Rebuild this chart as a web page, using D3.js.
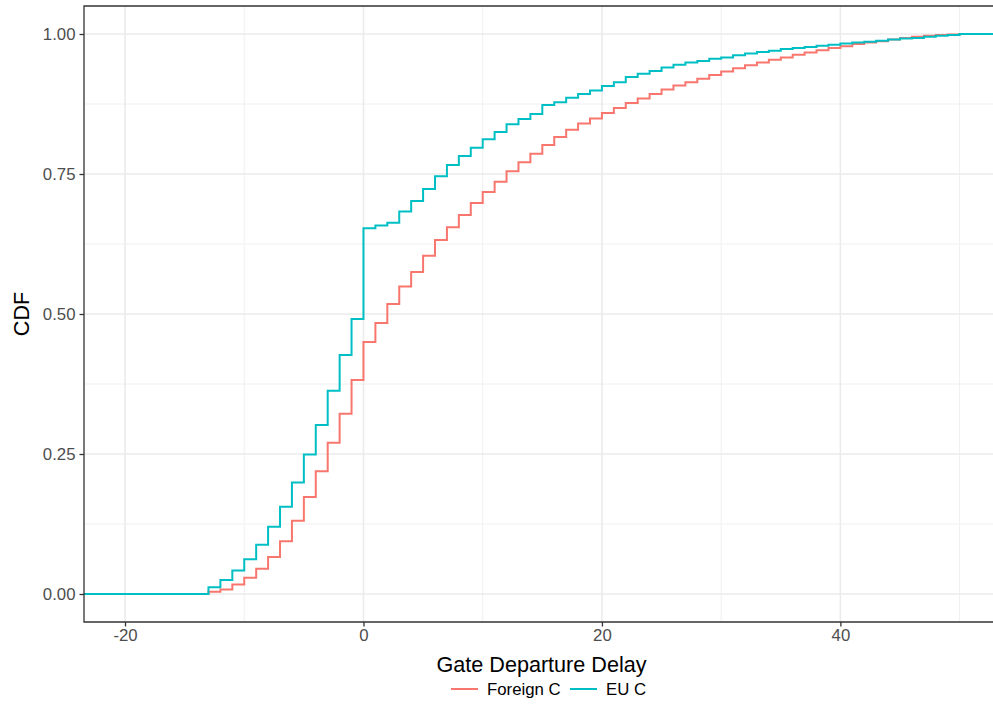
<!DOCTYPE html>
<html>
<head>
<meta charset="utf-8">
<script src="https://cdn.jsdelivr.net/npm/d3@7"></script>
<style>
  body { margin: 0; background: #fff; }
  text { font-family: "Liberation Sans", Arial, sans-serif; }
</style>
</head>
<body>
<svg width="993" height="704"></svg>
<script>
// delay values (minutes) where the ecdf steps
const DELAYS = d3.range(-13, 51);

const FOREIGN_C = [
  0.004, 0.008, 0.017, 0.029, 0.045, 0.066, 0.094, 0.131, 0.173, 0.219,
  0.270, 0.322, 0.382, 0.450, 0.484, 0.518, 0.549, 0.575, 0.604, 0.632,
  0.655, 0.677, 0.698, 0.718, 0.736, 0.755, 0.771, 0.786, 0.802, 0.816,
  0.829, 0.840, 0.849, 0.859, 0.868, 0.877, 0.885, 0.893, 0.901, 0.908,
  0.914, 0.920, 0.927, 0.933, 0.939, 0.944, 0.949, 0.954, 0.958, 0.963,
  0.967, 0.971, 0.975, 0.978, 0.982, 0.985, 0.987, 0.990, 0.993, 0.995,
  0.997, 0.998, 0.999, 1.000
];

const EU_C = [
  0.012, 0.025, 0.042, 0.062, 0.088, 0.120, 0.156, 0.199, 0.249, 0.302,
  0.363, 0.427, 0.491, 0.653, 0.658, 0.663, 0.683, 0.702, 0.723, 0.746,
  0.766, 0.782, 0.797, 0.812, 0.825, 0.839, 0.848, 0.857, 0.873, 0.878,
  0.886, 0.893, 0.899, 0.907, 0.914, 0.923, 0.929, 0.934, 0.940, 0.945,
  0.949, 0.952, 0.956, 0.958, 0.962, 0.965, 0.968, 0.970, 0.973, 0.975,
  0.977, 0.979, 0.981, 0.983, 0.985, 0.986, 0.988, 0.990, 0.992, 0.993,
  0.995, 0.997, 0.998, 1.000
];

const SERIES_NAMES = ["Foreign C", "EU C"];
const COLORS = ["#F8766D", "#00BFC4"];
const X_TICKS = [-20, 0, 20, 40];
const X_MINOR = [-10, 10, 30, 50];
const Y_TICKS = [0, 0.25, 0.5, 0.75, 1];
const Y_MINOR = [0.125, 0.375, 0.625, 0.875];

const LEFT = 84, RIGHT = 993, TOP = 6, BOTTOM = 622;

const svg = d3.select('svg');

const x = d3.scaleLinear().domain([-23.44, 52.8]).range([LEFT, RIGHT]);
const y = d3.scaleLinear().domain([-0.05, 1.05]).range([BOTTOM, TOP]);

svg.append('clipPath').attr('id', 'panel')
  .append('rect')
  .attr('x', LEFT).attr('y', TOP)
  .attr('width', RIGHT - LEFT + 10).attr('height', BOTTOM - TOP);

const grid = svg.append('g');

// minor grid
grid.selectAll('.vminor').data(X_MINOR).enter().append('line')
  .attr('x1', d => x(d)).attr('x2', d => x(d))
  .attr('y1', TOP).attr('y2', BOTTOM)
  .attr('stroke', '#f0f0f0').attr('stroke-width', 1);
grid.selectAll('.hminor').data(Y_MINOR).enter().append('line')
  .attr('x1', LEFT).attr('x2', RIGHT + 10)
  .attr('y1', d => y(d)).attr('y2', d => y(d))
  .attr('stroke', '#f0f0f0').attr('stroke-width', 1);

// major grid
grid.selectAll('.vmajor').data(X_TICKS).enter().append('line')
  .attr('x1', d => x(d)).attr('x2', d => x(d))
  .attr('y1', TOP).attr('y2', BOTTOM)
  .attr('stroke', '#ebebeb').attr('stroke-width', 1.6);
grid.selectAll('.hmajor').data(Y_TICKS).enter().append('line')
  .attr('x1', LEFT).attr('x2', RIGHT + 10)
  .attr('y1', d => y(d)).attr('y2', d => y(d))
  .attr('stroke', '#ebebeb').attr('stroke-width', 1.6);

// step lines
const line = d3.line()
  .x(d => x(d[0]))
  .y(d => y(d[1]))
  .curve(d3.curveStepAfter);

[FOREIGN_C, EU_C].forEach((vals, i) => {
  const pts = [[x.domain()[0], 0]]
    .concat(DELAYS.map((d, j) => [d, vals[j]]))
    .concat([[x.domain()[1] + 1, 1]]);
  svg.append('path')
    .datum(pts)
    .attr('d', line)
    .attr('fill', 'none')
    .attr('stroke', COLORS[i])
    .attr('stroke-width', 2)
    .attr('clip-path', 'url(#panel)');
});

// panel border
svg.append('path')
  .attr('d', `M${RIGHT + 5},${TOP}H${LEFT}V${BOTTOM}H${RIGHT + 5}`)
  .attr('fill', 'none')
  .attr('stroke', '#333333')
  .attr('stroke-width', 1.3);

// x axis
const xAxis = svg.append('g')
  .attr('transform', `translate(0,${BOTTOM})`)
  .call(d3.axisBottom(x).tickValues(X_TICKS).tickSize(4.5).tickPadding(3).tickFormat(d3.format('d')));
xAxis.select('.domain').remove();
xAxis.selectAll('line').attr('stroke', '#333333').attr('stroke-width', 1.3);
xAxis.selectAll('text').attr('fill', '#4d4d4d').style('font-size', '16.8px')
  .style('font-family', '"Liberation Sans", Arial, sans-serif')
  .text(d => d < 0 ? '-' + Math.abs(d) : d);

// y axis
const yAxis = svg.append('g')
  .attr('transform', `translate(${LEFT},0)`)
  .call(d3.axisLeft(y).tickValues(Y_TICKS).tickSize(4.5).tickPadding(4).tickFormat(d3.format('.2f')));
yAxis.select('.domain').remove();
yAxis.selectAll('line').attr('stroke', '#333333').attr('stroke-width', 1.3);
yAxis.selectAll('text').attr('fill', '#4d4d4d').style('font-size', '16.8px')
  .style('font-family', '"Liberation Sans", Arial, sans-serif');

// axis titles
svg.append('text')
  .attr('x', 541.5).attr('y', 672)
  .attr('text-anchor', 'middle')
  .style('font-size', '21.6px')
  .text('Gate Departure Delay');

svg.append('text')
  .attr('transform', `translate(29,${(TOP + BOTTOM) / 2}) rotate(-90)`)
  .attr('text-anchor', 'middle')
  .style('font-size', '21.6px')
  .text('CDF');

// legend
const legend = svg.append('g');
const keyX = [451, 570];
SERIES_NAMES.forEach((name, i) => {
  legend.append('line')
    .attr('x1', keyX[i]).attr('x2', keyX[i] + 27)
    .attr('y1', 689).attr('y2', 689)
    .attr('stroke', COLORS[i]).attr('stroke-width', 2);
  legend.append('text')
    .attr('x', keyX[i] + 36).attr('y', 695)
    .style('font-size', '16.8px')
    .text(name);
});
</script>
</body>
</html>
